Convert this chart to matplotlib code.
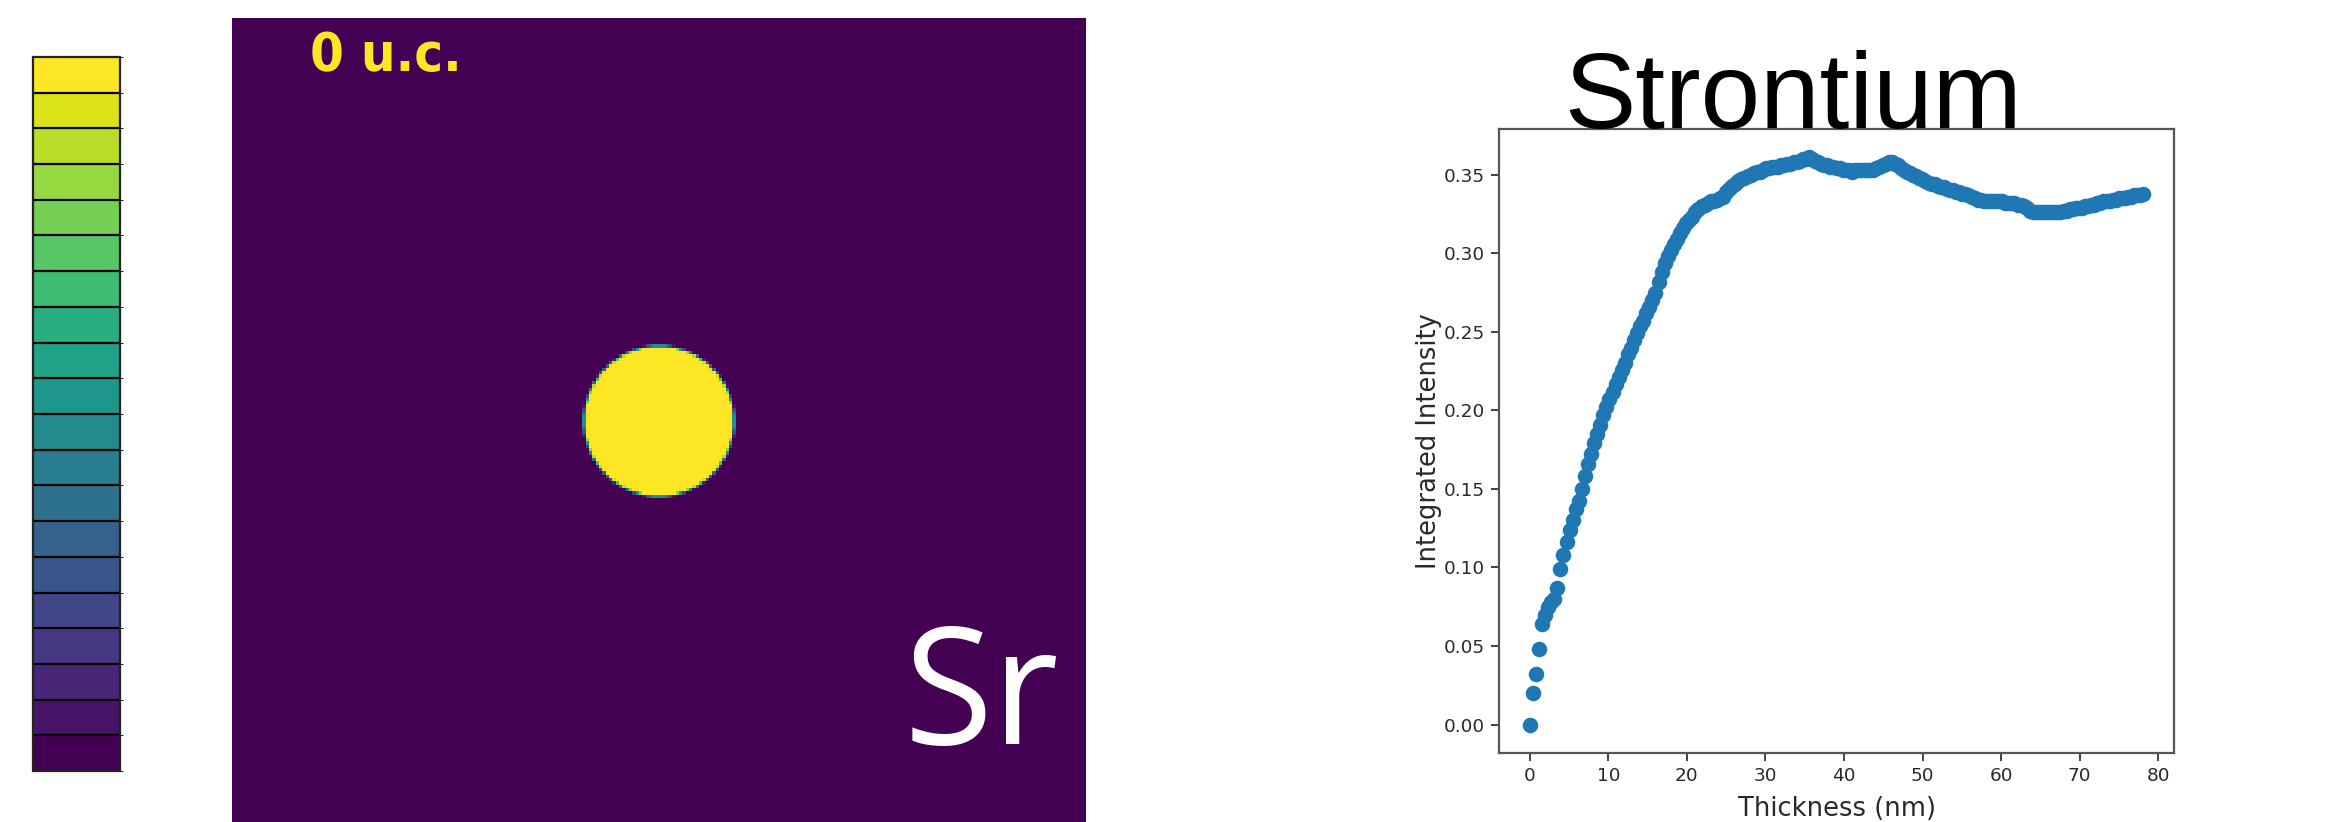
import numpy as np
import matplotlib
matplotlib.use("Agg")
import matplotlib.pyplot as plt
from matplotlib.colors import ListedColormap, BoundaryNorm
from matplotlib.cm import ScalarMappable

# ---- profile data: one point per SrTiO3 unit cell (a = 0.3905 nm) ----
lattice_nm = 0.3905
unit_cells = np.arange(201)
thickness_nm = unit_cells * lattice_nm

sr_intensity = [
    0.000, 0.020, 0.032, 0.048, 0.064, 0.070, 0.075, 0.078, 0.080, 0.087,
    0.099, 0.108, 0.116, 0.124, 0.130, 0.137, 0.142, 0.150, 0.158, 0.166,
    0.172, 0.179, 0.185, 0.191, 0.197, 0.202, 0.207, 0.212, 0.217, 0.221,
    0.226, 0.230, 0.236, 0.240, 0.245, 0.249, 0.254, 0.257, 0.262, 0.266,
    0.270, 0.275, 0.282, 0.288, 0.294, 0.298, 0.302, 0.306, 0.309, 0.313,
    0.316, 0.319, 0.321, 0.323, 0.326, 0.328, 0.330, 0.331, 0.332, 0.333,
    0.333, 0.334, 0.335, 0.336, 0.339, 0.341, 0.343, 0.344, 0.346, 0.347,
    0.348, 0.349, 0.350, 0.351, 0.352, 0.352, 0.353, 0.354, 0.354, 0.355,
    0.355, 0.355, 0.356, 0.356, 0.357, 0.357, 0.358, 0.358, 0.359, 0.360,
    0.360, 0.361, 0.360, 0.359, 0.358, 0.357, 0.356, 0.356, 0.355, 0.355,
    0.354, 0.354, 0.353, 0.353, 0.353, 0.352, 0.353, 0.353, 0.353, 0.353,
    0.353, 0.353, 0.353, 0.354, 0.355, 0.356, 0.357, 0.358, 0.358, 0.357,
    0.356, 0.354, 0.353, 0.352, 0.351, 0.350, 0.349, 0.348, 0.347, 0.346,
    0.345, 0.344, 0.344, 0.343, 0.342, 0.342, 0.341, 0.340, 0.340, 0.339,
    0.339, 0.338, 0.338, 0.337, 0.336, 0.335, 0.334, 0.334, 0.333, 0.333,
    0.333, 0.333, 0.333, 0.333, 0.333, 0.332, 0.332, 0.332, 0.332, 0.331,
    0.331, 0.330, 0.329, 0.327, 0.326, 0.326, 0.326, 0.326, 0.326, 0.326,
    0.326, 0.326, 0.326, 0.326, 0.327, 0.327, 0.328, 0.328, 0.329, 0.329,
    0.329, 0.330, 0.330, 0.331, 0.331, 0.332, 0.332, 0.333, 0.333, 0.333,
    0.334, 0.334, 0.335, 0.335, 0.335, 0.336, 0.336, 0.337, 0.337, 0.337,
    0.338,
]

x_ticks = [0, 10, 20, 30, 40, 50, 60, 70, 80]
y_ticks = [0.00, 0.05, 0.10, 0.15, 0.20, 0.25, 0.30, 0.35]
x_label = "Thickness (nm)"
y_label = "Integrated Intensity"
element_name = "Strontium"
element_symbol = "Sr"
frame_label = "0 u.c."

# ---- simulated map frame: a bright disc on an empty field ----
map_cols, map_rows = 256, 241
disc_center = (128.0, 121.0)   # (column, row)
disc_radius = 22.5
n_levels = 20

ss = 6
xs = (np.arange(map_cols * ss) + 0.5) / ss
ys = (np.arange(map_rows * ss) + 0.5) / ss
X, Y = np.meshgrid(xs, ys)
inside = ((X - disc_center[0]) ** 2 + (Y - disc_center[1]) ** 2
          <= disc_radius ** 2).astype(float)
frame = inside.reshape(map_rows, ss, map_cols, ss).mean(axis=(1, 3))

# ---- figure ----
W, H = 2343, 822
fig = plt.figure(figsize=(W / 100, H / 100), dpi=100)
fig.patch.set_facecolor("white")


def box(x0, y0, x1, y1):
    """Pixel box (top-left origin) -> figure fraction rect."""
    return [x0 / W, 1 - y1 / H, (x1 - x0) / W, (y1 - y0) / H]


# discrete colour scale
cax = fig.add_axes(box(33, 57, 120, 771))
level_colors = plt.get_cmap("viridis")(np.linspace(0, 1, n_levels))
cmap = ListedColormap(level_colors)
norm = BoundaryNorm(np.arange(n_levels + 1), n_levels)
cb = fig.colorbar(ScalarMappable(norm=norm, cmap=cmap), cax=cax,
                  drawedges=True)
cb.set_ticks([])
cb.outline.set_linewidth(1.6)
cb.outline.set_edgecolor("#222222")
cb.dividers.set_linewidth(1.6)
cb.dividers.set_color("black")

# map frame
ax_img = fig.add_axes(box(232, 18, 1086, 822))
ax_img.imshow(frame, cmap="viridis", vmin=0, vmax=1,
              extent=(0, map_cols, map_rows, 0), aspect="auto",
              interpolation="nearest")
ax_img.set_xlim(0, map_cols)
ax_img.set_ylim(map_rows, 0)
ax_img.axis("off")
ax_img.text(23.5, 15.9, frame_label, color="#fde725", fontsize=39,
            fontweight="bold", family="DejaVu Sans", fontstretch="condensed",
            ha="left", va="baseline")
ax_img.text(248.0, 217.6, element_symbol, color="white", fontsize=117,
            family=["Open Sans", "DejaVu Sans"], ha="right", va="baseline")

# integrated-intensity profile
ax = fig.add_axes(box(1499, 129, 2174, 753))
ax.scatter(thickness_nm, sr_intensity, s=125, color="#1f77b4", linewidths=0)
ax.set_xticks(x_ticks)
ax.set_yticks(y_ticks)
ax.set_yticklabels([f"{v:.2f}" for v in y_ticks])
ax.tick_params(labelsize=13.3, length=6, width=1.3, colors="#333333",
               labelcolor="#2a2a2a", pad=4)
for sp in ax.spines.values():
    sp.set_linewidth(1.6)
    sp.set_color("#555555")
ax.set_xlabel(x_label, fontsize=18.5, color="#2a2a2a", labelpad=8)
ax.set_ylabel(y_label, fontsize=18.5, color="#2a2a2a", labelpad=1)

fig.text(1793 / W, 1 - 128 / H, element_name, fontsize=77,
         family=["Liberation Sans"],
         ha="center", va="baseline", color="black")

fig.savefig("out.png", dpi=100, facecolor="white")
